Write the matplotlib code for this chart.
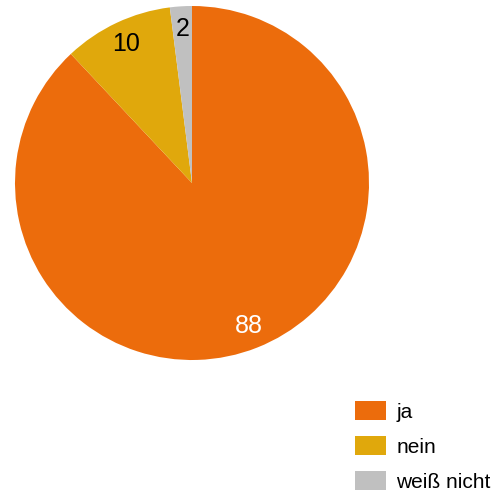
import matplotlib
matplotlib.use("Agg")
from matplotlib import pyplot as plt
from matplotlib.patches import Patch

categories = ['ja', 'nein', 'weiß nicht']
values = [88, 10, 2]
colors = ['#EC6C0C', '#E0A80C', '#C0C0C0']
label_colors = ['white', 'black', 'black']

plt.rcParams['font.family'] = ['Liberation Sans', 'DejaVu Sans']

fig = plt.figure(figsize=(4.95, 4.96), dpi=100)
ax = fig.add_axes([15 / 495, (496 - 360) / 496, 354 / 495, 354 / 496])

wedges, texts = ax.pie(values, colors=colors, startangle=90, counterclock=False,
                       labels=[str(v) for v in values], labeldistance=0.87,
                       textprops={'fontsize': 18, 'ha': 'center', 'va': 'center'})
for t, c in zip(texts, label_colors):
    t.set_color(c)
ax.set_aspect('equal')
ax.set_xlim(-1, 1)
ax.set_ylim(-1, 1)

handles = [Patch(facecolor=c, edgecolor='none') for c in colors]
fig.legend(handles, categories, loc='upper left',
           bbox_to_anchor=(355 / 495, 1 - 401 / 496),
           frameon=False, fontsize=15, handlelength=1.49, handleheight=1.05,
           labelspacing=0.68, handletextpad=0.5, borderpad=0, borderaxespad=0)

fig.savefig('out.png', dpi=100)
